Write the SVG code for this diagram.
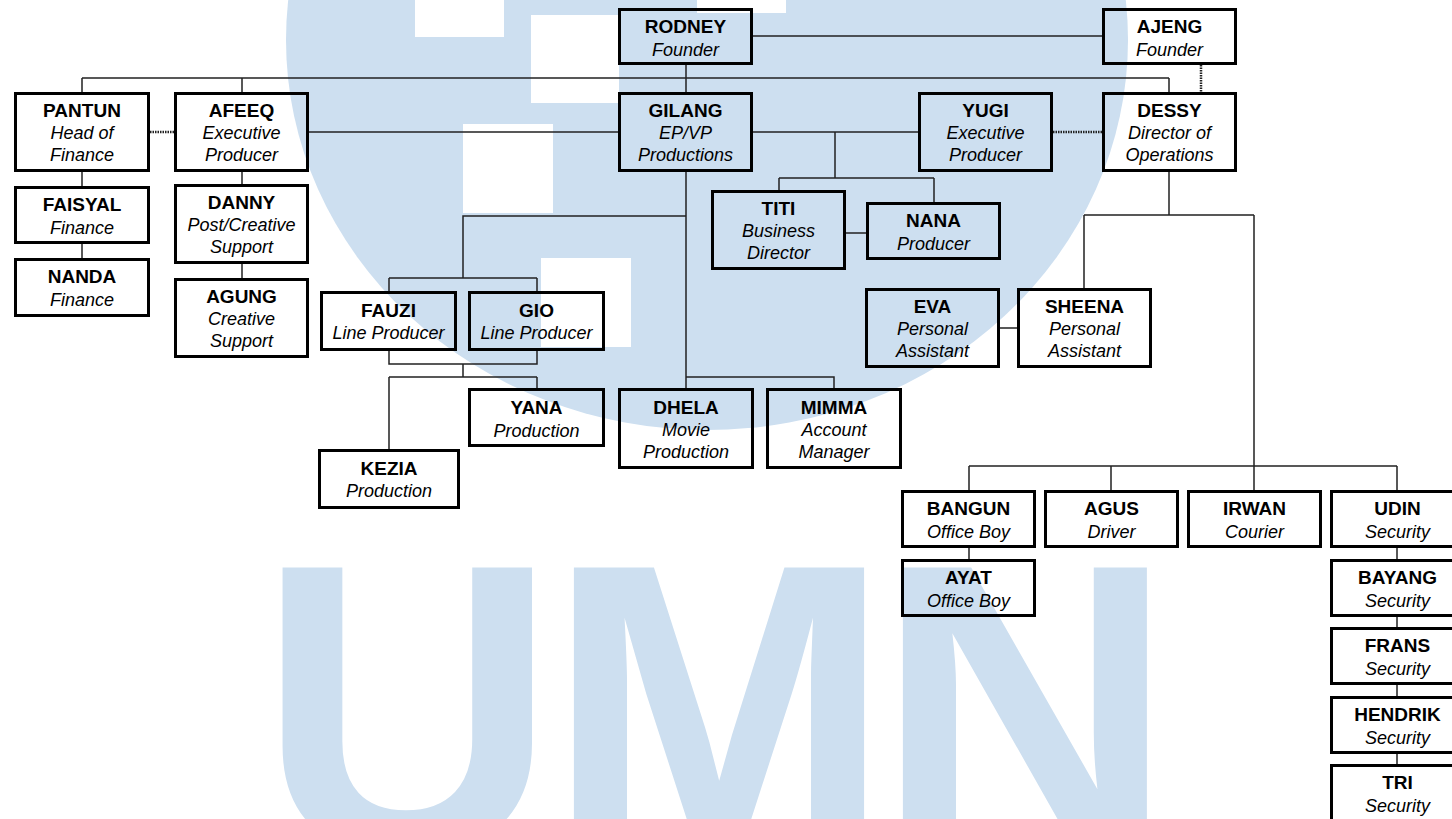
<svg xmlns="http://www.w3.org/2000/svg" width="1452" height="819" viewBox="0 0 1452 819">
<style>
.bx{fill:none;stroke:#000;stroke-width:3}
.nm{font-family:"Liberation Sans",Arial,sans-serif;font-weight:bold;font-size:19px;text-anchor:middle;fill:#000}
.rl{font-family:"Liberation Sans",Arial,sans-serif;font-style:italic;font-size:18px;text-anchor:middle;fill:#000}
.ln{fill:none;stroke:#222;stroke-width:1.5}
.dt{fill:none;stroke:#222;stroke-width:2.5;stroke-dasharray:1.5 1}
.wm{fill:#cddff0}
</style>
<rect x="0" y="0" width="1452" height="819" fill="#fff"/>
<g id="watermark">
<ellipse class="wm" cx="707" cy="40" rx="421" ry="390"/>
<rect x="415" y="-52" width="89" height="89" fill="#fff"/>
<rect x="531" y="15" width="88" height="88" fill="#fff"/>
<rect x="697" y="-76" width="89" height="89" fill="#fff"/>
<rect x="463" y="124" width="90" height="89" fill="#fff"/>
<rect x="541" y="258" width="90" height="89" fill="#fff"/>
<text class="wm" x="407.5 719 1025" y="853" font-family="'Liberation Sans',Arial,sans-serif" font-weight="bold" font-size="415" text-anchor="middle">UMN</text>
</g>
<g id="connectors">
<path class="ln" d="M753,36H1102M686,65V92M82,78H1169M82,78V92M242,78V92M1169,78V92M309,132H618M753,132H918M835,132V178M779,178H934M779,178V190M934,178V202M846,233H866M82,172V186M82,244V258M242,172V184M242,264V278M686,172V388M686,216H463V278M389,278H537M389,278V291M537,278V291M686,377H834V388M389,351V364H537V351M463,364V377M389,377H537M389,377V449M537,377V388M1169,172V215M1084,215H1254M1084,215V288M1254,215V466M969,466H1397M969,466V490M1111,466V490M1254,466V490M1397,466V490M1000,328H1017M969,548V559M1397,548V559M1397,617V627M1397,685V696M1397,754V764"/>
<path class="dt" d="M150,132H174M1053,132H1102M1201,65V92"/>
</g>
<g id="rodney"><rect class="bx" x="619.5" y="9.5" width="132" height="54"/><text class="nm" x="685.5" y="33">RODNEY</text><text class="rl" x="685.5" y="56">Founder</text></g>
<g id="ajeng"><rect class="bx" x="1103.5" y="9.5" width="132" height="54"/><text class="nm" x="1169.5" y="33">AJENG</text><text class="rl" x="1169.5" y="56">Founder</text></g>
<g id="gilang"><rect class="bx" x="619.5" y="93.5" width="132" height="77"/><text class="nm" x="685.5" y="117">GILANG</text><text class="rl" x="685.5" y="139">EP/VP</text><text class="rl" x="685.5" y="161">Productions</text></g>
<g id="pantun"><rect class="bx" x="15.5" y="93.5" width="133" height="77"/><text class="nm" x="82" y="117">PANTUN</text><text class="rl" x="82" y="139">Head of</text><text class="rl" x="82" y="161">Finance</text></g>
<g id="afeeq"><rect class="bx" x="175.5" y="93.5" width="132" height="77"/><text class="nm" x="241.5" y="117">AFEEQ</text><text class="rl" x="241.5" y="139">Executive</text><text class="rl" x="241.5" y="161">Producer</text></g>
<g id="yugi"><rect class="bx" x="919.5" y="93.5" width="132" height="77"/><text class="nm" x="985.5" y="117">YUGI</text><text class="rl" x="985.5" y="139">Executive</text><text class="rl" x="985.5" y="161">Producer</text></g>
<g id="dessy"><rect class="bx" x="1103.5" y="93.5" width="132" height="77"/><text class="nm" x="1169.5" y="117">DESSY</text><text class="rl" x="1169.5" y="139">Director of</text><text class="rl" x="1169.5" y="161">Operations</text></g>
<g id="faisyal"><rect class="bx" x="15.5" y="187.5" width="133" height="55"/><text class="nm" x="82" y="211">FAISYAL</text><text class="rl" x="82" y="234">Finance</text></g>
<g id="nanda"><rect class="bx" x="15.5" y="259.5" width="133" height="56"/><text class="nm" x="82" y="283">NANDA</text><text class="rl" x="82" y="306">Finance</text></g>
<g id="danny"><rect class="bx" x="175.5" y="185.5" width="132" height="77"/><text class="nm" x="241.5" y="209">DANNY</text><text class="rl" x="241.5" y="231">Post/Creative</text><text class="rl" x="241.5" y="253">Support</text></g>
<g id="agung"><rect class="bx" x="175.5" y="279.5" width="132" height="77"/><text class="nm" x="241.5" y="303">AGUNG</text><text class="rl" x="241.5" y="325">Creative</text><text class="rl" x="241.5" y="347">Support</text></g>
<g id="titi"><rect class="bx" x="712.5" y="191.5" width="132" height="77"/><text class="nm" x="778.5" y="215">TITI</text><text class="rl" x="778.5" y="237">Business</text><text class="rl" x="778.5" y="259">Director</text></g>
<g id="nana"><rect class="bx" x="867.5" y="203.5" width="132" height="55"/><text class="nm" x="933.5" y="227">NANA</text><text class="rl" x="933.5" y="250">Producer</text></g>
<g id="fauzi"><rect class="bx" x="321.5" y="292.5" width="134" height="57"/><text class="nm" x="388.5" y="317">FAUZI</text><text class="rl" x="388.5" y="339">Line Producer</text></g>
<g id="gio"><rect class="bx" x="469.5" y="292.5" width="134" height="57"/><text class="nm" x="536.5" y="317">GIO</text><text class="rl" x="536.5" y="339">Line Producer</text></g>
<g id="yana"><rect class="bx" x="469.5" y="389.5" width="134" height="56"/><text class="nm" x="536.5" y="414">YANA</text><text class="rl" x="536.5" y="437">Production</text></g>
<g id="kezia"><rect class="bx" x="319.5" y="450.5" width="139" height="57"/><text class="nm" x="389" y="475">KEZIA</text><text class="rl" x="389" y="497">Production</text></g>
<g id="dhela"><rect class="bx" x="619.5" y="389.5" width="133" height="78"/><text class="nm" x="686" y="414">DHELA</text><text class="rl" x="686" y="436">Movie</text><text class="rl" x="686" y="458">Production</text></g>
<g id="mimma"><rect class="bx" x="767.5" y="389.5" width="133" height="78"/><text class="nm" x="834" y="414">MIMMA</text><text class="rl" x="834" y="436">Account</text><text class="rl" x="834" y="458">Manager</text></g>
<g id="eva"><rect class="bx" x="866.5" y="289.5" width="132" height="77"/><text class="nm" x="932.5" y="313">EVA</text><text class="rl" x="932.5" y="335">Personal</text><text class="rl" x="932.5" y="357">Assistant</text></g>
<g id="sheena"><rect class="bx" x="1018.5" y="289.5" width="132" height="77"/><text class="nm" x="1084.5" y="313">SHEENA</text><text class="rl" x="1084.5" y="335">Personal</text><text class="rl" x="1084.5" y="357">Assistant</text></g>
<g id="bangun"><rect class="bx" x="902.5" y="491.5" width="132" height="55"/><text class="nm" x="968.5" y="515">BANGUN</text><text class="rl" x="968.5" y="538">Office Boy</text></g>
<g id="agus"><rect class="bx" x="1045.5" y="491.5" width="132" height="55"/><text class="nm" x="1111.5" y="515">AGUS</text><text class="rl" x="1111.5" y="538">Driver</text></g>
<g id="irwan"><rect class="bx" x="1188.5" y="491.5" width="132" height="55"/><text class="nm" x="1254.5" y="515">IRWAN</text><text class="rl" x="1254.5" y="538">Courier</text></g>
<g id="udin"><rect class="bx" x="1331.5" y="491.5" width="132" height="55"/><text class="nm" x="1397.5" y="515">UDIN</text><text class="rl" x="1397.5" y="538">Security</text></g>
<g id="ayat"><rect class="bx" x="902.5" y="560.5" width="132" height="55"/><text class="nm" x="968.5" y="584">AYAT</text><text class="rl" x="968.5" y="607">Office Boy</text></g>
<g id="bayang"><rect class="bx" x="1331.5" y="560.5" width="132" height="55"/><text class="nm" x="1397.5" y="584">BAYANG</text><text class="rl" x="1397.5" y="607">Security</text></g>
<g id="frans"><rect class="bx" x="1331.5" y="628.5" width="132" height="55"/><text class="nm" x="1397.5" y="652">FRANS</text><text class="rl" x="1397.5" y="675">Security</text></g>
<g id="hendrik"><rect class="bx" x="1331.5" y="697.5" width="132" height="55"/><text class="nm" x="1397.5" y="721">HENDRIK</text><text class="rl" x="1397.5" y="744">Security</text></g>
<g id="tri"><rect class="bx" x="1331.5" y="765.5" width="132" height="55"/><text class="nm" x="1397.5" y="789">TRI</text><text class="rl" x="1397.5" y="812">Security</text></g>
</svg>
